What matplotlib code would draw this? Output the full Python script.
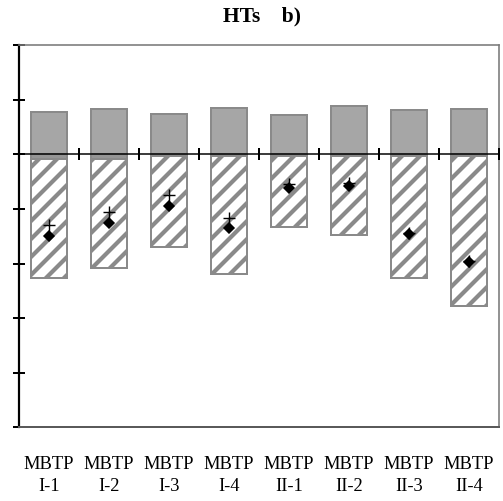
import numpy as np
import matplotlib
matplotlib.use("Agg")
import matplotlib.pyplot as plt

DPI = 108
def px(v):
    return v * 72.0 / DPI

categories = ["MBTP\nI-1", "MBTP\nI-2", "MBTP\nI-3", "MBTP\nI-4",
              "MBTP\nII-1", "MBTP\nII-2", "MBTP\nII-3", "MBTP\nII-4"]
positive = [0.78, 0.82, 0.74, 0.85, 0.71, 0.88, 0.81, 0.83]
small_neg = [-0.08, -0.08, -0.03, -0.03, -0.03, -0.03, -0.03, -0.03]
hatched = [-2.18, -2.00, -1.66, -2.16, -1.30, -1.45, -2.23, -2.75]
plus_vals = [-1.30, -1.05, -0.74, -1.17, -0.55, -0.52, -1.44, -1.95]
diamond_vals = [-1.50, -1.25, -0.94, -1.35, -0.61, -0.58, -1.45, -1.98]
y_ticks = [-5, -4, -3, -2, -1, 0, 1, 2]

plt.rcParams['font.family'] = ['Liberation Serif', 'DejaVu Serif']
plt.rcParams['hatch.linewidth'] = px(4.2)

W, H = 503, 501
fig = plt.figure(figsize=((W + 0.01) / DPI, (H + 0.01) / DPI), dpi=DPI)
ax = fig.add_axes([19 / W, 1 - 427.5 / H, 480 / W, 382.5 / H])

n = len(categories)
centers = np.arange(n) + 0.5
gray_fill = '#a6a6a6'
gray_edge = '#8a8a8a'

ax.bar(centers, positive, width=0.6, color=gray_fill, edgecolor=gray_edge,
       linewidth=px(2), zorder=2)
ax.bar(centers, small_neg, width=0.6, color='#959595', edgecolor=gray_edge,
       linewidth=px(2), zorder=2)
ax.bar(centers, hatched, bottom=small_neg, width=0.6, color='white',
       edgecolor=gray_edge, hatch='//', linewidth=px(2), zorder=2)

ax.axhline(0, color='black', lw=px(1.5), zorder=3)
bounds = np.arange(1, n + 1)
ax.plot(bounds, np.zeros(n), ls='none', marker='|', ms=px(13), mew=px(2),
        color='black', clip_on=False, zorder=3)

ax.plot(centers, diamond_vals, ls='none', marker='D', ms=px(7.5),
        color='black', zorder=4)
ax.plot(centers, plus_vals, ls='none', marker='+', ms=px(12), mew=px(1.4),
        color='black', zorder=4)

ax.set_xlim(0, n)
ax.set_ylim(min(y_ticks), max(y_ticks))
ax.set_yticks(y_ticks)
ax.set_yticklabels([])
ax.tick_params(axis='y', direction='inout', length=px(12), width=px(2),
               color='black')
ax.set_xticks(centers)
ax.set_xticklabels(categories, fontsize=px(18.5), linespacing=1.45)
ax.tick_params(axis='x', length=0, pad=px(28))

ax.spines['left'].set_color('black')
ax.spines['left'].set_linewidth(px(2.2))
ax.spines['top'].set_color('#7a7a7a')
ax.spines['top'].set_linewidth(px(1.6))
ax.spines['right'].set_color('#7a7a7a')
ax.spines['right'].set_linewidth(px(1.6))
ax.spines['bottom'].set_color('#5a5a5a')
ax.spines['bottom'].set_linewidth(px(2))

fig.text(262 / W, 1 - 21.7 / H, "HTs    b)", fontsize=px(21.5),
         fontweight='bold', ha='center', va='baseline')

fig.savefig("out.png", dpi=DPI, facecolor='white')
